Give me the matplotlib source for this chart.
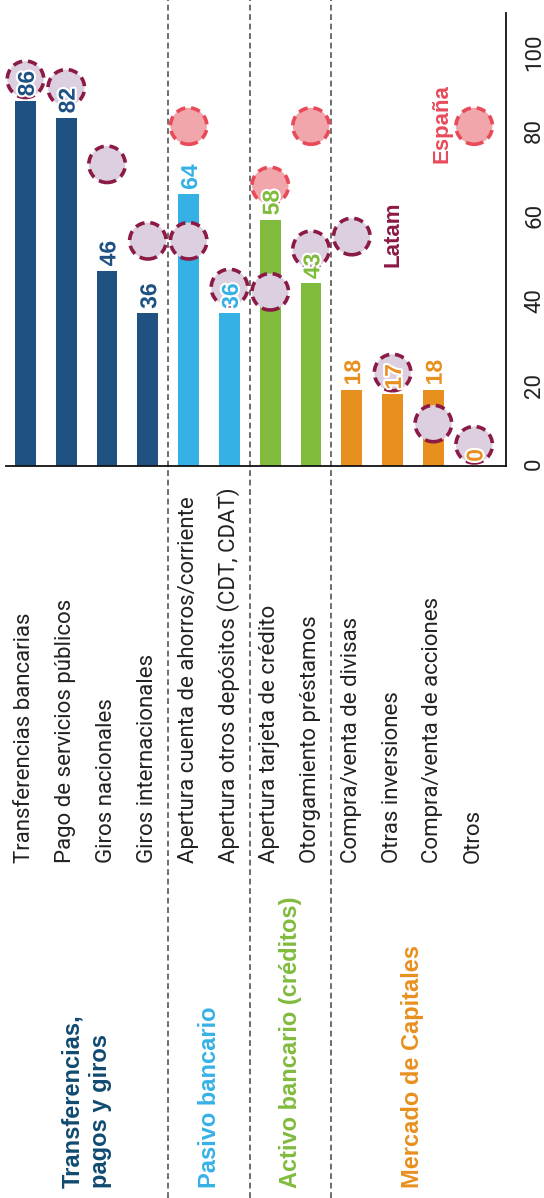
import matplotlib
matplotlib.use("Agg")
import matplotlib.pyplot as plt
import matplotlib.patheffects as pe
import matplotlib.transforms as mtrans
from matplotlib.lines import Line2D
import numpy as np

# ---------------- data ----------------
categories = [
    "Transferencias bancarias", "Pago de servicios públicos", "Giros nacionales",
    "Giros internacionales", "Apertura cuenta de ahorros/corriente",
    "Apertura otros depósitos (CDT, CDAT)", "Apertura tarjeta de crédito",
    "Otorgamiento préstamos", "Compra/venta de divisas", "Otras inversiones",
    "Compra/venta de acciones", "Otros",
]
values = [86, 82, 46, 36, 64, 36, 58, 43, 18, 17, 18, 0]
latam = [91, 89, 71, 53, 53, 42, 41, 51, 54, 22, 10, 5]
espana = [None, None, None, None, 80, None, 66, 80, None, None, None, 80]
group_of = [0, 0, 0, 0, 1, 1, 2, 2, 3, 3, 3, 3]
groups = ["Transferencias,\npagos y giros", "Pasivo bancario",
          "Activo bancario (créditos)", "Mercado de Capitales"]
yticks = [0, 20, 40, 60, 80, 100]

bar_colors = ["#1f5283", "#35b1e6", "#80bb3d", "#e8901f"]
group_colors = ["#114a70", "#35b1e6", "#80bb3d", "#e8901f"]

W, H = 544, 1198
fig = plt.figure(figsize=(W / 100, H / 100), dpi=100)

# axes in pixel geometry
x0, x1 = 6, 506
ytop, ybot = 13, 466
ax = fig.add_axes([x0 / W, 1 - ybot / H, (x1 - x0) / W, (ybot - ytop) / H])

x = np.arange(len(categories))
cols = [bar_colors[g] for g in group_of]
ax.bar(x, values, width=0.51, color=cols, zorder=2)

ax.set_xlim(-0.478, 11.78)
ax.set_ylim(0, 106.6)

for s in ["top", "left"]:
    ax.spines[s].set_visible(False)
for s in ["bottom", "right"]:
    ax.spines[s].set_linewidth(1.3)
    ax.spines[s].set_color("#111111")
ax.set_xticks([])
ax.yaxis.tick_right()
ax.set_yticks(yticks)
ax.set_yticklabels([str(t) for t in yticks])
ax.tick_params(axis="y", length=0, pad=13.0, labelrotation=90, labelsize=16,
               labelcolor="#222222")
for lab in ax.get_yticklabels():
    lab.set_fontweight("normal")
    lab.set_family(["Roboto", "DejaVu Sans"])

# circles
lat_x = [i for i, v in enumerate(latam) if v is not None]
lat_y = [v for v in latam if v is not None]
ax.scatter(lat_x, lat_y, s=690, facecolor="#dcd0e0", edgecolor="#8b1a45",
           linewidths=2.6, linestyle=(0, (2.6, 1.6)), zorder=3, clip_on=False)
esp_x = [i for i, v in enumerate(espana) if v is not None]
esp_y = [v for v in espana if v is not None]
ax.scatter(esp_x, esp_y, s=690, facecolor="#f0a6ab", edgecolor="#e84a5a",
           linewidths=2.6, linestyle=(0, (2.6, 1.6)), zorder=3, clip_on=False)

# value labels
for i, v in enumerate(values):
    ax.annotate(str(v), xy=(i, v), xytext=(6.0, 3.0), textcoords="offset points",
                rotation=90, rotation_mode="anchor", ha="left", va="baseline",
                fontsize=16.5, fontweight="bold", color=cols[i],
                family=["Liberation Sans", "DejaVu Sans"], zorder=5,
                path_effects=[pe.withStroke(linewidth=3, foreground="white")])

# series labels
ax.text(9.0, 54.6, "Latam", rotation=90, ha="center", va="center",
        fontsize=16, fontweight="bold", color="#8b1a45",
        family=["Liberation Sans", "DejaVu Sans"], zorder=5)
ax.text(10.2, 80.5, "España", rotation=90, ha="center", va="center",
        fontsize=16, fontweight="bold", color="#e84a5a",
        family=["Liberation Sans", "DejaVu Sans"], zorder=5)

# category labels
blend = mtrans.blended_transform_factory(ax.transData, fig.transFigure)
px = 1.0 / 100 * 72  # points per pixel
for i, c in enumerate(categories):
    t = mtrans.offset_copy(blend, fig=fig, x=5 * px, y=0, units="points")
    ax.text(i, 1 - 863 / H, c, transform=t, rotation=90, rotation_mode="anchor",
            ha="left", va="baseline", fontsize=16, fontweight="normal",
            color="#222222", family=["Roboto", "DejaVu Sans"], clip_on=False)

# group labels
for g, name in enumerate(groups):
    idx = [i for i, gg in enumerate(group_of) if gg == g]
    cx = (idx[0] + idx[-1]) / 2
    ax.text(cx, 1 - 1188 / H, name, transform=blend, rotation=90,
            rotation_mode="anchor", ha="left", va="center", multialignment="left",
            fontsize=17, fontweight="bold", color=group_colors[g],
            family=["Liberation Sans", "DejaVu Sans"], linespacing=1.25,
            clip_on=False)

# dashed separators
for b in [3.5, 5.5, 7.5]:
    ln = Line2D([b, b], [0, 1], transform=blend, color="#555555", lw=1.2,
                linestyle=(0, (3.5, 2.2)), clip_on=False, zorder=1)
    ax.add_line(ln)

fig.savefig("out.png", dpi=100)
